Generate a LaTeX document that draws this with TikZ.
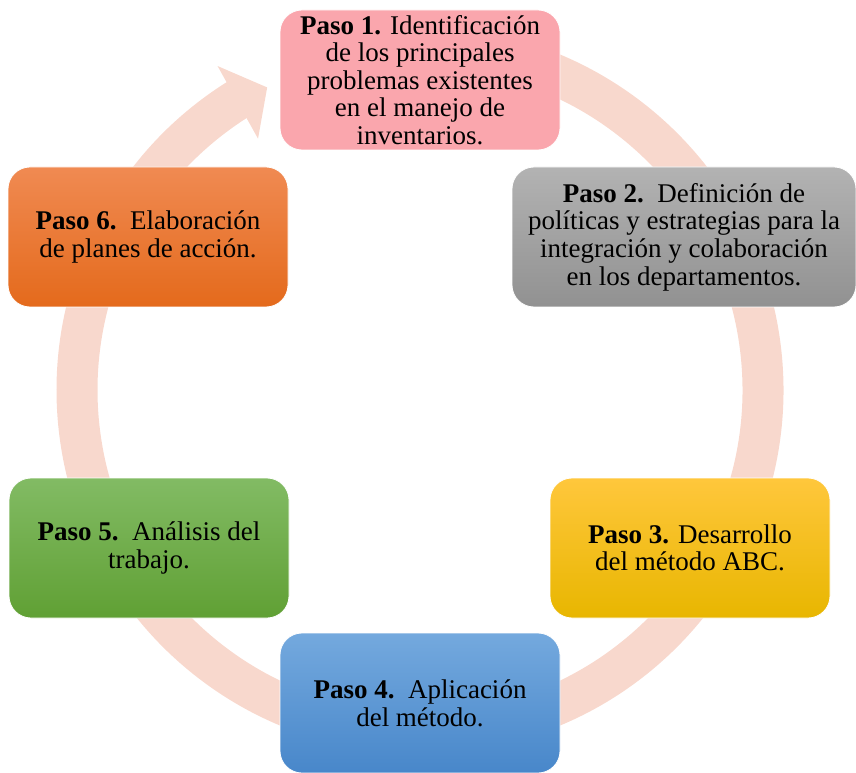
\documentclass[tikz,border=0pt]{standalone}
\usepackage{fontspec}
\setmainfont{Liberation Serif}
\usetikzlibrary{positioning}
\definecolor{Anillo}{RGB}{248,216,205}
\definecolor{Rosa}{RGB}{250,166,173}
\tikzset{
every picture/.style={x=1pt, y=1pt},
pasonode/.style={rectangle, rounded corners=22pt, draw=white, line width=0.8pt, minimum width=280pt, minimum height=140pt, inner sep=0pt, align=center, font=\fontsize{27}{27.6}\selectfont},
ringline/.style={draw=Anillo, line width=41pt},
}

\begin{document}
\begin{tikzpicture}
\useasboundingbox (0,0) rectangle (856,772);
%Ring
\coordinate (C) at (420,382);
\draw[ringline] (C) ++(95:343pt) arc[start angle=95, end angle=-238, radius=343pt];
\fill[Anillo, shift={(C)}] (-238:382pt) -- (-243.2:339pt) -- (-237.2:299pt) -- cycle;

%Nodes
\node [pasonode, fill=Rosa] (paso1) at (420,692)
  {\textbf{Paso 1.} Identificación\\de los principales\\problemas existentes\\en el manejo de\\inventarios.};
\node [pasonode, minimum width=344pt, top color=black!30, bottom color=black!43] (paso2) at (684,535)
  {\textbf{Paso 2.}\ \ Definición de\\políticas y estrategias para la\\integración y colaboración\\en los departamentos.};
\node [pasonode, top color={rgb,255:red,255;green,199;blue,60}, bottom color={rgb,255:red,232;green,182;blue,0}] (paso3) at (690,224)
  {\textbf{Paso 3.} Desarrollo\\del método ABC.};
\node [pasonode, top color={rgb,255:red,116;green,169;blue,222}, bottom color={rgb,255:red,72;green,135;blue,202}] (paso4) at (420,69)
  {\textbf{Paso 4.}\ \ Aplicación\\del método.};
\node [pasonode, top color={rgb,255:red,130;green,187;blue,100}, bottom color={rgb,255:red,96;green,160;blue,52}] (paso5) at (149,224)
  {\textbf{Paso 5.}\ \ Análisis del\\trabajo.};
\node [pasonode, top color={rgb,255:red,240;green,138;blue,82}, bottom color={rgb,255:red,228;green,106;blue,28}] (paso6) at (148,535)
  {\textbf{Paso 6.}\ \ Elaboración\\de planes de acción.};

\end{tikzpicture}
\end{document}
